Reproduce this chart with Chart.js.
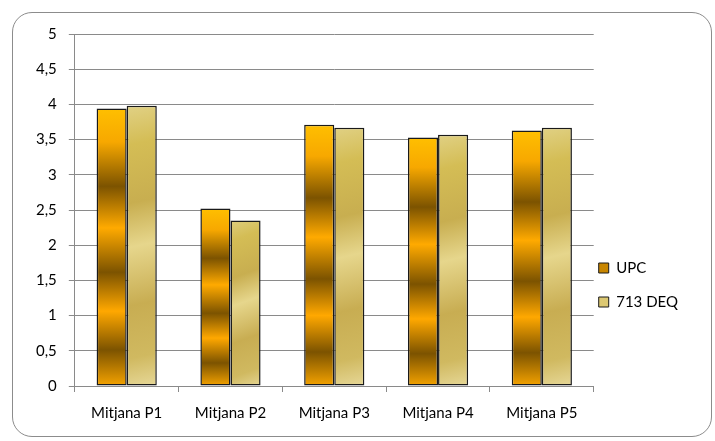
<!DOCTYPE html>
<html>
<head>
<meta charset="utf-8">
<script src="https://cdn.jsdelivr.net/npm/chart.js@4/dist/chart.umd.min.js"></script>
<style>
  body { margin: 0; background: #fff; }
  #frame {
    position: absolute; left: 12px; top: 12px; width: 698px; height: 423px;
    border: 1px solid #8c8c8c; border-radius: 20px;
  }
  #wrap { position: absolute; left: 0; top: 0; width: 715px; height: 441px; }
</style>
</head>
<body>
<div id="frame"></div>
<div id="wrap"><canvas id="myBarChart"></canvas></div>
<script>
// data
const categories = ['Mitjana P1', 'Mitjana P2', 'Mitjana P3', 'Mitjana P4', 'Mitjana P5'];
const upcValues = [3.94, 2.52, 3.71, 3.53, 3.63];
const deqValues = [3.98, 2.35, 3.67, 3.57, 3.67];
const seriesNames = ['UPC', '713 DEQ'];

// striped gold gradient, relative to each bar
function upcFill(ctx) {
    const chart = ctx.chart;
    if (ctx.dataIndex === undefined || !chart.chartArea) return '#d08e00';
    const y = chart.scales.y;
    const top = y.getPixelForValue(ctx.raw);
    const bottom = y.getPixelForValue(0);
    const g = chart.ctx.createLinearGradient(0, top, 0, bottom);
    g.addColorStop(0, '#ffbf00');
    g.addColorStop(0.12, '#f7a800');
    g.addColorStop(0.28, '#7c5300');
    g.addColorStop(0.43, '#ffaa00');
    g.addColorStop(0.59, '#7c5300');
    g.addColorStop(0.73, '#ffa800');
    g.addColorStop(0.87, '#7c5300');
    g.addColorStop(1, '#f5a300');
    return g;
}

function deqFill(ctx) {
    const chart = ctx.chart;
    if (ctx.dataIndex === undefined || !chart.chartArea) return '#d8c46a';
    const y = chart.scales.y;
    const top = y.getPixelForValue(ctx.raw);
    const bottom = y.getPixelForValue(0);
    const x = chart.scales.x.getPixelForValue(ctx.dataIndex);
    const g = chart.ctx.createLinearGradient(x - 20, top, x + 40, bottom);
    g.addColorStop(0, '#e2d38a');
    g.addColorStop(0.15, '#d4bd55');
    g.addColorStop(0.35, '#c8ae50');
    g.addColorStop(0.5, '#e6d68c');
    g.addColorStop(0.7, '#c8ad52');
    g.addColorStop(0.88, '#d0b960');
    g.addColorStop(1, '#e8da9c');
    return g;
}

// pull the legend in next to the plot and a bit lower, like the original
const legendShift = {
    id: 'legendShift',
    afterLayout(chart) {
        const lg = chart.legend;
        const dx = (chart.chartArea.right + 5) - (lg.left + lg.options.labels.padding);
        lg.left += dx;
        lg.right += dx;
        lg.top += 51;
        lg.bottom += 51;
    }
};

const barData = {
    labels: categories,
    datasets: [{
        label: seriesNames[0],
        data: upcValues,
        backgroundColor: upcFill,
        borderColor: '#1a1a1a',
        borderWidth: 1.5,
        borderSkipped: false
    }, {
        label: seriesNames[1],
        data: deqValues,
        backgroundColor: deqFill,
        borderColor: '#1a1a1a',
        borderWidth: 1.5,
        borderSkipped: false
    }]
};

const tickFont = { family: 'Lato', size: 15 };

const barConfig = {
    type: 'bar',
    data: barData,
    plugins: [legendShift],
    options: {
        responsive: true,
        maintainAspectRatio: false,
        animation: false,
        datasets: {
            bar: { categoryPercentage: 0.58, barPercentage: 1 }
        },
        layout: { padding: { left: 24, right: 13, top: 34, bottom: 7 } },
        plugins: {
            tooltip: { enabled: false },
            legend: {
                position: 'right',
                labels: {
                    color: '#000',
                    font: tickFont,
                    boxWidth: 10,
                    boxHeight: 10,
                    padding: 19,
                    generateLabels: chart => chart.data.datasets.map((ds, i) => ({
                        text: ds.label,
                        fillStyle: i === 0 ? '#c88600' : '#dcc872',
                        strokeStyle: '#1a1a1a',
                        lineWidth: 1,
                        datasetIndex: i
                    }))
                }
            }
        },
        scales: {
            y: {
                min: 0,
                max: 5,
                ticks: {
                    stepSize: 0.5,
                    color: '#000',
                    font: tickFont,
                    padding: 12,
                    callback: v => String(v).replace('.', ',')
                },
                grid: { color: '#8a8a8a', tickLength: 6 },
                border: { color: '#8a8a8a' }
            },
            x: {
                offset: true,
                ticks: { color: '#000', font: tickFont, padding: 12 },
                grid: { offset: true, drawOnChartArea: false, color: '#8a8a8a', tickLength: 6 },
                border: { color: '#8a8a8a' }
            }
        }
    }
};

new Chart(document.getElementById('myBarChart'), barConfig);
</script>
</body>
</html>
